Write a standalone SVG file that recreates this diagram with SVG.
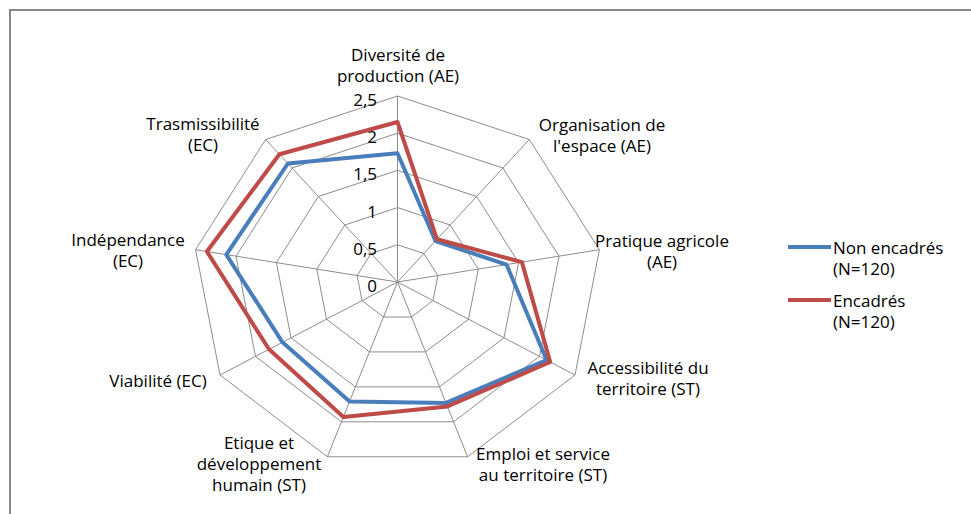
<svg xmlns="http://www.w3.org/2000/svg" width="971" height="514" viewBox="0 0 971 514">
<style>
.lbl{font-family:"Open Sans","Liberation Sans",sans-serif;font-size:17px;fill:#000;text-anchor:middle}
.tick{font-family:"Open Sans","Liberation Sans",sans-serif;font-size:17px;fill:#000;text-anchor:end}
.leg{font-family:"Open Sans","Liberation Sans",sans-serif;font-size:17px;fill:#000}
.grid{fill:none;stroke:#8c8c8c;stroke-width:1}
.s1{fill:none;stroke:#4a7ebb;stroke-width:4;stroke-linejoin:round}
.s2{fill:none;stroke:#be4b48;stroke-width:4;stroke-linejoin:round}
</style>
<rect width="971" height="514" fill="#fff"/>
<path d="M10 514V10H971" fill="none" stroke="#878787" stroke-width="2"/>
<g id="grid">
<polygon class="grid" points="397.5,96 529.3,139.5 599.4,249.7 575,375 467.6,456.8 327.4,456.8 220,375 195.6,249.7 265.7,139.5"/>
<polygon class="grid" points="397.5,133.2 502.9,168 559,256.2 539.5,356.4 453.6,421.8 341.4,421.8 255.5,356.4 236,256.2 292.1,168"/>
<polygon class="grid" points="397.5,170.4 476.6,196.5 518.6,262.6 504,337.8 439.6,386.9 355.4,386.9 291,337.8 276.4,262.6 318.4,196.5"/>
<polygon class="grid" points="397.5,207.6 450.2,225 478.3,269.1 468.5,319.2 425.5,351.9 369.5,351.9 326.5,319.2 316.8,269.1 344.8,225"/>
<polygon class="grid" points="397.5,244.8 423.9,253.5 437.9,275.5 433,300.6 411.5,317 383.5,317 362,300.6 357.1,275.5 371.1,253.5"/>
<path class="grid" d="M397.5 282L397.5 96M397.5 282L529.3 139.5M397.5 282L599.4 249.7M397.5 282L575 375M397.5 282L467.6 456.8M397.5 282L327.4 456.8M397.5 282L220 375M397.5 282L195.6 249.7M397.5 282L265.7 139.5"/>
</g>
<g id="ticks">
<text class="tick" x="377" y="292">0</text>
<text class="tick" x="377" y="254.8">0,5</text>
<text class="tick" x="377" y="217.6">1</text>
<text class="tick" x="377" y="180.4">1,5</text>
<text class="tick" x="377" y="143.2">2</text>
<text class="tick" x="377" y="106">2,5</text>
</g>
<g id="connectors">
<polygon id="series-non-encadres" class="s1" points="397.5,153.3 435.5,241 506.5,264.6 546.6,360.1 446,402.9 349.6,401.5 282.5,342.3 226.3,254.6 287.9,163.5"/>
<polygon id="series-encadres" class="s2" points="397.5,122 437,239.3 521.9,262.1 550.2,362 447.4,406.4 343.4,416.9 269,349.3 206.9,251.5 279.4,154.3"/>
</g>
<g id="axis-diversite"><text class="lbl" x="398" y="61">Diversité de</text><text class="lbl" x="398" y="82">production (AE)</text></g>
<g id="axis-organisation"><text class="lbl" x="602" y="131">Organisation de</text><text class="lbl" x="602" y="152">l'espace (AE)</text></g>
<g id="axis-pratique"><text class="lbl" x="662" y="247">Pratique agricole</text><text class="lbl" x="662" y="268">(AE)</text></g>
<g id="axis-accessibilite"><text class="lbl" x="648" y="374">Accessibilité du</text><text class="lbl" x="648" y="395">territoire (ST)</text></g>
<g id="axis-emploi"><text class="lbl" x="543" y="460">Emploi et service</text><text class="lbl" x="543" y="481">au territoire (ST)</text></g>
<g id="axis-etique"><text class="lbl" x="259" y="449">Etique et</text><text class="lbl" x="259" y="470">développement</text><text class="lbl" x="259" y="491">humain (ST)</text></g>
<g id="axis-viabilite"><text class="lbl" x="158" y="387">Viabilité (EC)</text></g>
<g id="axis-independance"><text class="lbl" x="128" y="246">Indépendance</text><text class="lbl" x="128" y="267">(EC)</text></g>
<g id="axis-trasmissibilite"><text class="lbl" x="203" y="130">Trasmissibilité</text><text class="lbl" x="203" y="151">(EC)</text></g>
<g id="legend">
<line x1="788" y1="247" x2="831" y2="247" stroke="#4a7ebb" stroke-width="4"/>
<text class="leg" x="833" y="254">Non encadrés</text>
<text class="leg" x="833" y="275">(N=120)</text>
<line x1="788" y1="300" x2="831" y2="300" stroke="#be4b48" stroke-width="4"/>
<text class="leg" x="833" y="307">Encadrés</text>
<text class="leg" x="833" y="328">(N=120)</text>
</g>
</svg>
